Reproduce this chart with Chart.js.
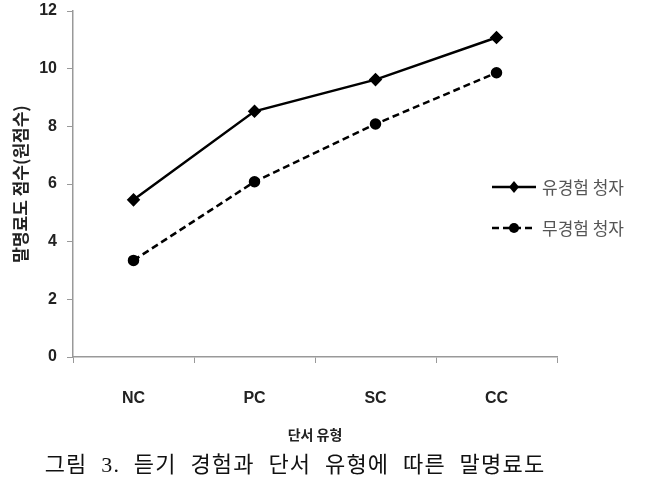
<!DOCTYPE html>
<html>
<head>
<meta charset="utf-8">
<script src="https://cdn.jsdelivr.net/npm/chart.js@4"></script>
<style>
    html, body { margin: 0; padding: 0; background: #fff; }
    #wrap { position: relative; width: 648px; height: 482px; }
    #caption {
        position: absolute; left: 0; top: 451px; width: 590px; text-align: center;
        font-family: "Liberation Serif", "Noto Sans CJK KR", serif; font-size: 22px;
        letter-spacing: 1.2px; word-spacing: 7px; color: #111; line-height: 28px;
    }
</style>
</head>
<body>
<div id="wrap">
    <canvas id="chart" width="648" height="482"></canvas>
    <div id="caption">그림 3. 듣기 경험과 단서 유형에 따른 말명료도</div>
</div>
<script>
// Data
const cueTypes = ['NC', 'PC', 'SC', 'CC'];
const experienced = [5.45, 8.52, 9.62, 11.08];
const inexperienced = [3.35, 6.08, 8.08, 9.86];
const seriesNames = ['유경험 청자', '무경험 청자'];
const yTicks = [0, 2, 4, 6, 8, 10, 12];

const KR = '"Noto Sans CJK KR", "Noto Sans", sans-serif';
const tickFont = { family: '"Liberation Sans", ' + KR, size: 16, weight: 'bold' };

// legend drawn by hand so the plot area keeps its width
const sideLegend = {
    id: 'sideLegend',
    afterDraw(chart) {
        const ctx = chart.ctx;
        const x0 = 492, rows = [187, 228];
        chart.data.datasets.forEach((ds, i) => {
            const y = rows[i];
            ctx.save();
            ctx.strokeStyle = '#000';
            ctx.lineWidth = 2.5;
            ctx.setLineDash(ds.borderDash || []);
            ctx.beginPath();
            ctx.moveTo(x0, y);
            ctx.lineTo(x0 + 44, y);
            ctx.stroke();
            ctx.setLineDash([]);
            ctx.fillStyle = '#000';
            ctx.beginPath();
            if (ds.pointStyle === 'rectRot') {
                ctx.moveTo(x0 + 22, y - 6); ctx.lineTo(x0 + 27, y);
                ctx.lineTo(x0 + 22, y + 6); ctx.lineTo(x0 + 17, y);
                ctx.closePath();
            } else {
                ctx.arc(x0 + 22, y, 5, 0, Math.PI * 2);
            }
            ctx.fill();
            ctx.fillStyle = '#555';
            ctx.font = '17px ' + KR;
            ctx.textBaseline = 'middle';
            ctx.fillText(ds.label, x0 + 50, y + 1);
            ctx.restore();
        });
    }
};

new Chart(document.getElementById('chart'), {
    type: 'line',
    data: {
        labels: cueTypes,
        datasets: [
            {
                label: seriesNames[0],
                data: experienced,
                borderColor: '#000',
                backgroundColor: '#000',
                borderWidth: 2.5,
                pointStyle: 'rectRot',
                pointRadius: 5,
                tension: 0
            },
            {
                label: seriesNames[1],
                data: inexperienced,
                borderColor: '#000',
                backgroundColor: '#000',
                borderWidth: 2.5,
                borderDash: [7, 4],
                pointStyle: 'circle',
                pointRadius: 4.5,
                tension: 0
            }
        ]
    },
    options: {
        responsive: false,
        animation: false,
        layout: { padding: { top: 11, right: 91, left: 0, bottom: 39 } },
        plugins: {
            legend: { display: false },
            tooltip: { enabled: false }
        },
        scales: {
            x: {
                offset: true,
                afterFit: axis => { axis.height = 86; },
                grid: { drawOnChartArea: false, color: '#999', tickLength: 6, offset: true },
                border: { color: '#999', width: 1.5 },
                ticks: { color: '#222', font: tickFont, padding: 26 },
                title: {
                    display: true,
                    text: '단서 유형',
                    color: '#222',
                    font: { family: KR, size: 14, weight: 'bold' },
                    padding: { top: 0, bottom: 0 }
                }
            },
            y: {
                min: 0,
                max: 12,
                afterFit: axis => { axis.width = 73; axis.paddingTop = 0; axis.paddingBottom = 0; },
                afterBuildTicks: axis => { axis.ticks = yTicks.map(v => ({ value: v })); },
                grid: { drawOnChartArea: false, color: '#999', tickLength: 6 },
                border: { color: '#999', width: 1.5 },
                ticks: { color: '#222', font: tickFont, padding: 10 },
                title: {
                    display: true,
                    text: '말명료도 점수(원점수)',
                    color: '#222',
                    font: { family: KR, size: 17, weight: 'bold' },
                    padding: { top: 10, bottom: 0 }
                }
            }
        }
    },
    plugins: [sideLegend]
});
</script>
</body>
</html>
